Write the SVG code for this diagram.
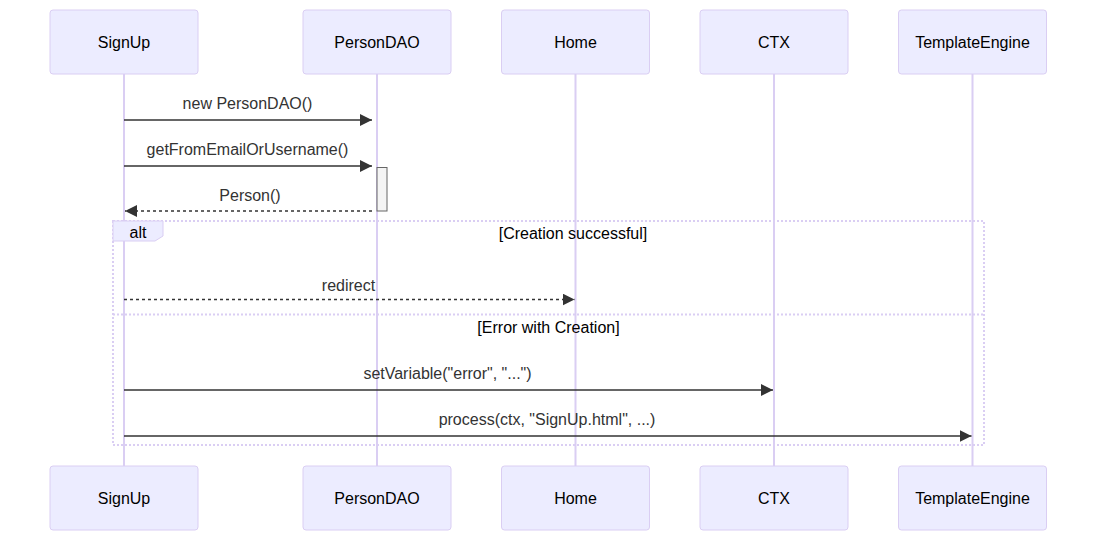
<svg xmlns="http://www.w3.org/2000/svg" width="1105" height="545" viewBox="0 0 1105 545">
<defs>
<marker id="arrow" viewBox="0 0 12 12" refX="12" refY="6" markerWidth="12" markerHeight="12" markerUnits="userSpaceOnUse" orient="auto">
<path d="M0,0 L12,6 L0,12 z" fill="#333"/>
</marker>
</defs>
<style>
text{font-family:"Liberation Sans",Arial,sans-serif;font-size:16px}
.actor{fill:#ECECFF;stroke:#DACEF3;stroke-width:1}
.atext{fill:#000;text-anchor:middle;dominant-baseline:central}
.life{stroke:#DACEF3;stroke-width:2}
.msg{stroke:#333;stroke-width:1.5;fill:none}
.dash{stroke-dasharray:3,3}
.mtext{fill:#333;text-anchor:middle}
.loop{stroke:#DACEF3;stroke-width:2;fill:none;stroke-dasharray:2,2}
.ltext{fill:#000;text-anchor:middle}
</style>
<rect width="1105" height="545" fill="#fff"/>
<g id="lifelines">
<line class="life" x1="124" y1="74" x2="124" y2="466"/>
<line class="life" x1="377" y1="74" x2="377" y2="466"/>
<line class="life" x1="575.5" y1="74" x2="575.5" y2="466"/>
<line class="life" x1="774" y1="74" x2="774" y2="466"/>
<line class="life" x1="972.5" y1="74" x2="972.5" y2="466"/>
</g>
<g id="SignUp">
<rect class="actor" x="50" y="10" width="148" height="64" rx="3"/><text class="atext" x="124" y="42">SignUp</text>
<rect class="actor" x="50" y="466" width="148" height="64" rx="3"/><text class="atext" x="124" y="498">SignUp</text>
</g>
<g id="PersonDAO">
<rect class="actor" x="303" y="10" width="148" height="64" rx="3"/><text class="atext" x="377" y="42">PersonDAO</text>
<rect class="actor" x="303" y="466" width="148" height="64" rx="3"/><text class="atext" x="377" y="498">PersonDAO</text>
</g>
<g id="Home">
<rect class="actor" x="501.5" y="10" width="148" height="64" rx="3"/><text class="atext" x="575.5" y="42">Home</text>
<rect class="actor" x="501.5" y="466" width="148" height="64" rx="3"/><text class="atext" x="575.5" y="498">Home</text>
</g>
<g id="CTX">
<rect class="actor" x="700" y="10" width="148" height="64" rx="3"/><text class="atext" x="774" y="42">CTX</text>
<rect class="actor" x="700" y="466" width="148" height="64" rx="3"/><text class="atext" x="774" y="498">CTX</text>
</g>
<g id="TemplateEngine">
<rect class="actor" x="898.5" y="10" width="148" height="64" rx="3"/><text class="atext" x="972.5" y="42">TemplateEngine</text>
<rect class="actor" x="898.5" y="466" width="148" height="64" rx="3"/><text class="atext" x="972.5" y="498">TemplateEngine</text>
</g>
<g id="activation">
<rect x="377" y="167.5" width="10" height="43.5" fill="#F4F4F4" stroke="#666" stroke-width="1"/>
</g>
<g id="alt">
<rect class="loop" x="113" y="221" width="871" height="224"/>
<line class="loop" x1="113" y1="314.5" x2="984" y2="314.5"/>
<polygon points="113,221 163,221 163,236 155,241 113,241" fill="#ECECFF" stroke="#DACEF3" stroke-width="1"/>
<text x="138" y="238" class="ltext">alt</text>
<text x="573" y="239" class="ltext">[Creation successful]</text>
<text x="548.5" y="333" class="ltext">[Error with Creation]</text>
</g>
<g id="connectors">
<line class="msg" x1="124" y1="120" x2="372" y2="120" marker-end="url(#arrow)"/>
<text class="mtext" x="247.5" y="109">new PersonDAO()</text>
<line class="msg" x1="124" y1="166" x2="372" y2="166" marker-end="url(#arrow)"/>
<text class="mtext" x="247.5" y="155">getFromEmailOrUsername()</text>
<line class="msg dash" x1="372" y1="211" x2="125" y2="211" marker-end="url(#arrow)"/>
<text class="mtext" x="250" y="201">Person()</text>
<line class="msg dash" x1="124" y1="299.5" x2="574.5" y2="299.5" marker-end="url(#arrow)"/>
<text class="mtext" x="348.5" y="291">redirect</text>
<line class="msg" x1="124" y1="390" x2="773" y2="390" marker-end="url(#arrow)"/>
<text class="mtext" x="447.5" y="379">setVariable("error", "...")</text>
<line class="msg" x1="124" y1="436" x2="971.5" y2="436" marker-end="url(#arrow)"/>
<text class="mtext" x="547" y="425">process(ctx, "SignUp.html", ...)</text>
</g>
</svg>
